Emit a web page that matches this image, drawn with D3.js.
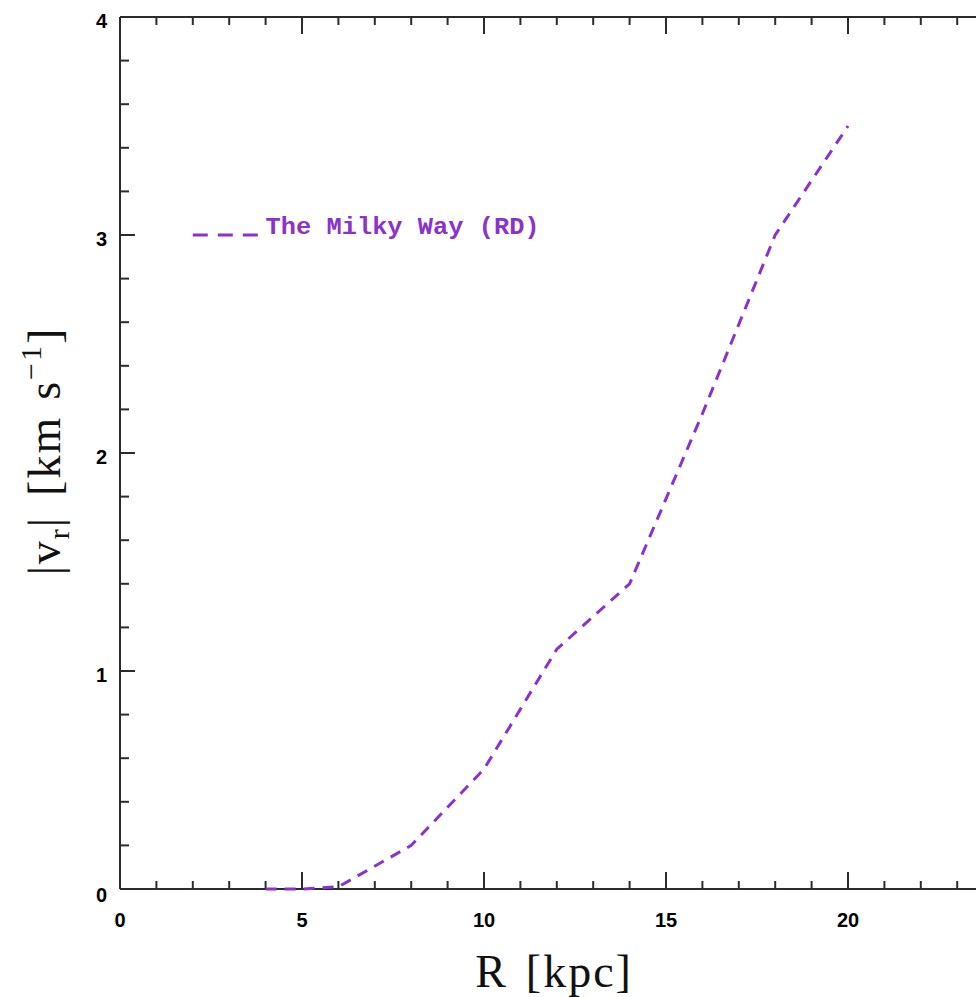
<!DOCTYPE html>
<html>
<head>
<meta charset="utf-8">
<script src="https://cdn.jsdelivr.net/npm/d3@7"></script>
<style>
  html, body { margin: 0; padding: 0; background: #fff; overflow: hidden; }
  svg { display: block; }
</style>
</head>
<body>
<svg id="chart" width="976" height="997"></svg>
<script>
// Radial velocity profile of the Milky Way model (RD)
const radiusKpc = [4, 5, 6, 8, 10, 12, 14, 16, 18, 20];
const vrKms     = [0, 0, 0.01, 0.2, 0.55, 1.1, 1.4, 2.18, 3.0, 3.5];
const seriesLabel = "The Milky Way (RD)";
const xTickLabels = [0, 5, 10, 15, 20];
const yTickLabels = [0, 1, 2, 3, 4];

(function draw() {
  const svg = d3.select("#chart");
  const plotLeft = 120, plotRight = 1030, plotTop = 17, plotBottom = 889;

  const x = d3.scaleLinear().domain([0, 25]).range([plotLeft, plotRight]);
  const y = d3.scaleLinear().domain([0, 4]).range([plotBottom, plotTop]);

  const axisColor = "#2b2b2b";
  const purple = "#8a32cc";

  // Frame
  const frame = svg.append("g").attr("stroke", axisColor).attr("stroke-width", 2);
  frame.append("line").attr("x1", plotLeft).attr("x2", plotRight).attr("y1", plotBottom).attr("y2", plotBottom);
  frame.append("line").attr("x1", plotLeft).attr("x2", plotRight).attr("y1", plotTop).attr("y2", plotTop);
  frame.append("line").attr("x1", plotLeft).attr("x2", plotLeft).attr("y1", plotTop).attr("y2", plotBottom);
  frame.append("line").attr("x1", plotRight).attr("x2", plotRight).attr("y1", plotTop).attr("y2", plotBottom);

  // Ticks along bottom and top (minor every 1 kpc, major every 5 kpc)
  const tickG = svg.append("g").attr("stroke", axisColor).attr("stroke-width", 2);
  d3.range(0, 26, 1).forEach(v => {
    const len = v % 5 === 0 ? 17 : 8;
    tickG.append("line").attr("x1", x(v)).attr("x2", x(v)).attr("y1", plotBottom).attr("y2", plotBottom - len);
    tickG.append("line").attr("x1", x(v)).attr("x2", x(v)).attr("y1", plotTop).attr("y2", plotTop + len);
  });
  // Ticks along left and right (minor every 0.2, major every 1)
  d3.range(0, 4.0001, 0.2).forEach(v => {
    const major = Math.abs(v - Math.round(v)) < 1e-6;
    const len = major ? 15 : 9;
    tickG.append("line").attr("x1", plotLeft).attr("x2", plotLeft + len).attr("y1", y(v)).attr("y2", y(v));
    tickG.append("line").attr("x1", plotRight).attr("x2", plotRight - len).attr("y1", y(v)).attr("y2", y(v));
  });

  // Tick labels
  const labelFont = "'Liberation Sans', Arial, sans-serif";
  svg.append("g").selectAll("text").data(xTickLabels).join("text")
    .attr("x", d => x(d)).attr("y", 927)
    .attr("text-anchor", "middle")
    .attr("font-family", labelFont).attr("font-weight", "bold").attr("font-size", 20)
    .attr("fill", "#000").text(d => d);
  svg.append("g").selectAll("text").data(yTickLabels).join("text")
    .attr("x", 107).attr("y", d => y(d) + (d === 0 ? 13 : 11))
    .attr("text-anchor", "end")
    .attr("font-family", labelFont).attr("font-weight", "bold").attr("font-size", 20)
    .attr("fill", "#000").text(d => d);

  // Axis titles
  const serif = "'Liberation Serif', 'DejaVu Serif', serif";
  const xt = svg.append("text").attr("x", 554).attr("y", 987)
    .attr("text-anchor", "middle").attr("font-family", serif).attr("font-size", 46)
    .attr("letter-spacing", 2).attr("fill", "#111");
  xt.append("tspan").text("R");
  xt.append("tspan").attr("dx", 18).text("[kpc]");

  const yt = svg.append("text")
    .attr("transform", "translate(60,451) rotate(-90)")
    .attr("text-anchor", "middle").attr("font-family", serif).attr("font-size", 46)
    .attr("letter-spacing", 2).attr("fill", "#111");
  yt.append("tspan").text("|v");
  yt.append("tspan").attr("font-size", 30).attr("dy", 9).text("r");
  yt.append("tspan").attr("dy", -9).text("|");
  yt.append("tspan").attr("dx", 20).text("[km");
  yt.append("tspan").attr("dx", 16).text("s");
  yt.append("tspan").attr("font-size", 30).attr("dy", -19).text("\u22121");
  yt.append("tspan").attr("dy", 19).text("]");

  // Data curve
  const line = d3.line().x((d, i) => x(radiusKpc[i])).y(d => y(d));
  svg.append("path")
    .attr("d", line(vrKms))
    .attr("fill", "none")
    .attr("stroke", purple)
    .attr("stroke-width", 3)
    .attr("stroke-dasharray", "11,8");

  // Legend
  svg.append("line")
    .attr("x1", x(2)).attr("x2", x(3.9))
    .attr("y1", y(3)).attr("y2", y(3))
    .attr("stroke", purple).attr("stroke-width", 3)
    .attr("stroke-dasharray", "15,10");
  svg.append("text")
    .attr("x", x(4.0)).attr("y", y(3) - 1)
    .attr("font-family", "'Liberation Mono', 'DejaVu Sans Mono', monospace")
    .attr("font-weight", "bold").attr("font-size", 24)
    .attr("textLength", 274).attr("lengthAdjust", "spacingAndGlyphs")
    .attr("fill", purple)
    .text(seriesLabel);
})();
</script>
</body>
</html>
